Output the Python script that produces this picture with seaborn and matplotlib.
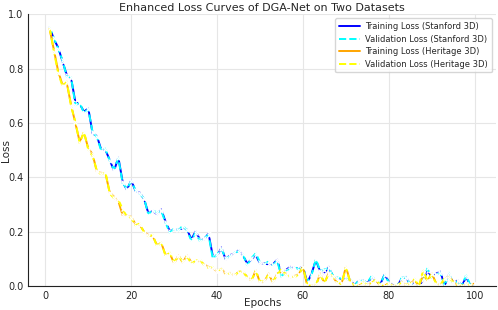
import numpy as np
import pandas as pd
import seaborn as sns
import matplotlib
matplotlib.use("Agg")
import matplotlib.pyplot as plt

epochs = list(range(1, 101))

train_stanford = [0.952, 0.908, 0.877, 0.826, 0.776, 0.764, 0.676, 0.670, 0.641, 0.654,
                  0.561, 0.552, 0.502, 0.500, 0.463, 0.423, 0.473, 0.383, 0.353, 0.389,
                  0.349, 0.343, 0.319, 0.267, 0.276, 0.263, 0.281, 0.236, 0.201, 0.208,
                  0.208, 0.211, 0.208, 0.171, 0.201, 0.171, 0.171, 0.193, 0.109, 0.109,
                  0.141, 0.097, 0.113, 0.119, 0.131, 0.113, 0.082, 0.097, 0.113, 0.082,
                  0.082, 0.079, 0.079, 0.097, 0.039, 0.058, 0.070, 0.066, 0.064, 0.070,
                  0.011, 0.045, 0.095, 0.052, 0.045, 0.070, 0.033, 0.027, 0.025, 0.027,
                  0.021, 0.002, 0.018, 0.021, 0.009, 0.033, 0.021, 0.005, 0.042, 0.015,
                  0.000, 0.000, 0.027, 0.033, 0.002, 0.015, 0.000, 0.021, 0.055, 0.033,
                  0.045, 0.052, 0.000, 0.043, 0.009, 0.021, 0.000, 0.033, 0.000, 0.000]

val_stanford = [0.955, 0.912, 0.872, 0.830, 0.770, 0.768, 0.665, 0.675, 0.636, 0.650,
                0.566, 0.548, 0.498, 0.505, 0.460, 0.428, 0.470, 0.378, 0.358, 0.385,
                0.352, 0.338, 0.322, 0.262, 0.280, 0.270, 0.276, 0.232, 0.195, 0.212,
                0.204, 0.222, 0.204, 0.166, 0.196, 0.164, 0.176, 0.188, 0.100, 0.116,
                0.136, 0.102, 0.108, 0.124, 0.126, 0.118, 0.075, 0.102, 0.120, 0.086,
                0.080, 0.090, 0.075, 0.092, 0.033, 0.052, 0.062, 0.070, 0.060, 0.068,
                0.015, 0.040, 0.098, 0.056, 0.060, 0.065, 0.038, 0.030, 0.028, 0.022,
                0.025, 0.000, 0.022, 0.018, 0.012, 0.036, 0.018, 0.008, 0.040, 0.012,
                0.000, 0.000, 0.030, 0.030, 0.006, 0.012, 0.000, 0.025, 0.065, 0.028,
                0.040, 0.048, 0.000, 0.048, 0.005, 0.018, 0.000, 0.040, 0.000, 0.002]

train_heritage = [0.945, 0.868, 0.789, 0.740, 0.746, 0.666, 0.598, 0.531, 0.564, 0.506,
                  0.485, 0.420, 0.416, 0.414, 0.343, 0.328, 0.312, 0.260, 0.260, 0.254,
                  0.227, 0.224, 0.199, 0.187, 0.183, 0.150, 0.158, 0.113, 0.119, 0.082,
                  0.113, 0.085, 0.113, 0.086, 0.088, 0.092, 0.079, 0.070, 0.066, 0.052,
                  0.064, 0.043, 0.048, 0.036, 0.052, 0.052, 0.033, 0.017, 0.058, 0.011,
                  0.015, 0.045, 0.011, 0.045, 0.052, 0.045, 0.031, 0.036, 0.043, 0.070,
                  0.000, 0.000, 0.000, 0.045, 0.009, 0.048, 0.033, 0.009, 0.009, 0.070,
                  0.015, 0.000, 0.000, 0.009, 0.000, 0.012, 0.020, 0.000, 0.000, 0.010,
                  0.000, 0.000, 0.015, 0.000, 0.010, 0.020, 0.000, 0.040, 0.020, 0.045,
                  0.010, 0.000, 0.025, 0.035, 0.015, 0.000, 0.000, 0.005, 0.000, 0.010]

val_heritage = [0.950, 0.862, 0.782, 0.735, 0.752, 0.660, 0.604, 0.525, 0.568, 0.500,
                0.478, 0.424, 0.410, 0.418, 0.340, 0.322, 0.318, 0.282, 0.255, 0.250,
                0.222, 0.230, 0.195, 0.182, 0.188, 0.145, 0.160, 0.110, 0.122, 0.088,
                0.108, 0.090, 0.108, 0.082, 0.092, 0.098, 0.075, 0.066, 0.070, 0.058,
                0.060, 0.046, 0.044, 0.040, 0.048, 0.056, 0.030, 0.020, 0.055, 0.015,
                0.020, 0.040, 0.016, 0.040, 0.062, 0.040, 0.035, 0.032, 0.040, 0.068,
                0.004, 0.000, 0.005, 0.040, 0.012, 0.044, 0.036, 0.012, 0.006, 0.068,
                0.012, 0.003, 0.000, 0.012, 0.004, 0.010, 0.024, 0.003, 0.000, 0.008,
                0.000, 0.003, 0.012, 0.004, 0.008, 0.026, 0.000, 0.058, 0.018, 0.042,
                0.008, 0.004, 0.028, 0.030, 0.012, 0.004, 0.000, 0.008, 0.002, 0.012]

series = [
    ("Training Loss (Stanford 3D)", train_stanford, "blue", "-"),
    ("Validation Loss (Stanford 3D)", val_stanford, "cyan", "--"),
    ("Training Loss (Heritage 3D)", train_heritage, "orange", "-"),
    ("Validation Loss (Heritage 3D)", val_heritage, "yellow", "--"),
]

sns.set_style("whitegrid", {"grid.color": "#e6e6e6", "axes.edgecolor": "#222222"})
plt.rcParams["font.family"] = ["DejaVu Sans"]

fig, ax = plt.subplots(figsize=(4.98, 3.10), dpi=100)
fig.subplots_adjust(left=0.057, right=0.996, top=0.954, bottom=0.078)

for name, vals, color, ls in series:
    df = pd.DataFrame({"Epochs": epochs, "Loss": vals})
    sns.lineplot(data=df, x="Epochs", y="Loss", ax=ax, color=color, linestyle=ls,
                 linewidth=1.4, marker="x", markersize=3, markeredgewidth=0.9,
                 label=name)

ax.set_ylim(0, 1.0)
ax.set_xlim(-3.95, 104.95)
ax.set_xticks([0, 20, 40, 60, 80, 100])
ax.set_yticks([0.0, 0.2, 0.4, 0.6, 0.8, 1.0])
ax.tick_params(labelsize=7, length=2, pad=1.5)
ax.set_title("Enhanced Loss Curves of DGA-Net on Two Datasets", fontsize=8, pad=2)
ax.set_xlabel("Epochs", fontsize=7.5)
ax.set_ylabel("Loss", fontsize=7.5)
ax.xaxis.set_label_coords(0.5, -0.045)
ax.yaxis.set_label_coords(-0.037, 0.5)
for s in ["top", "right"]:
    ax.spines[s].set_visible(False)
for s in ["left", "bottom"]:
    ax.spines[s].set_linewidth(0.8)
leg = ax.legend(loc="upper right", fontsize=6.0, frameon=True, handlelength=2.6,
                borderpad=0.45, labelspacing=0.42, handletextpad=0.6)
for h in leg.get_lines():
    h.set_marker("")

fig.savefig("out.png", dpi=100)
